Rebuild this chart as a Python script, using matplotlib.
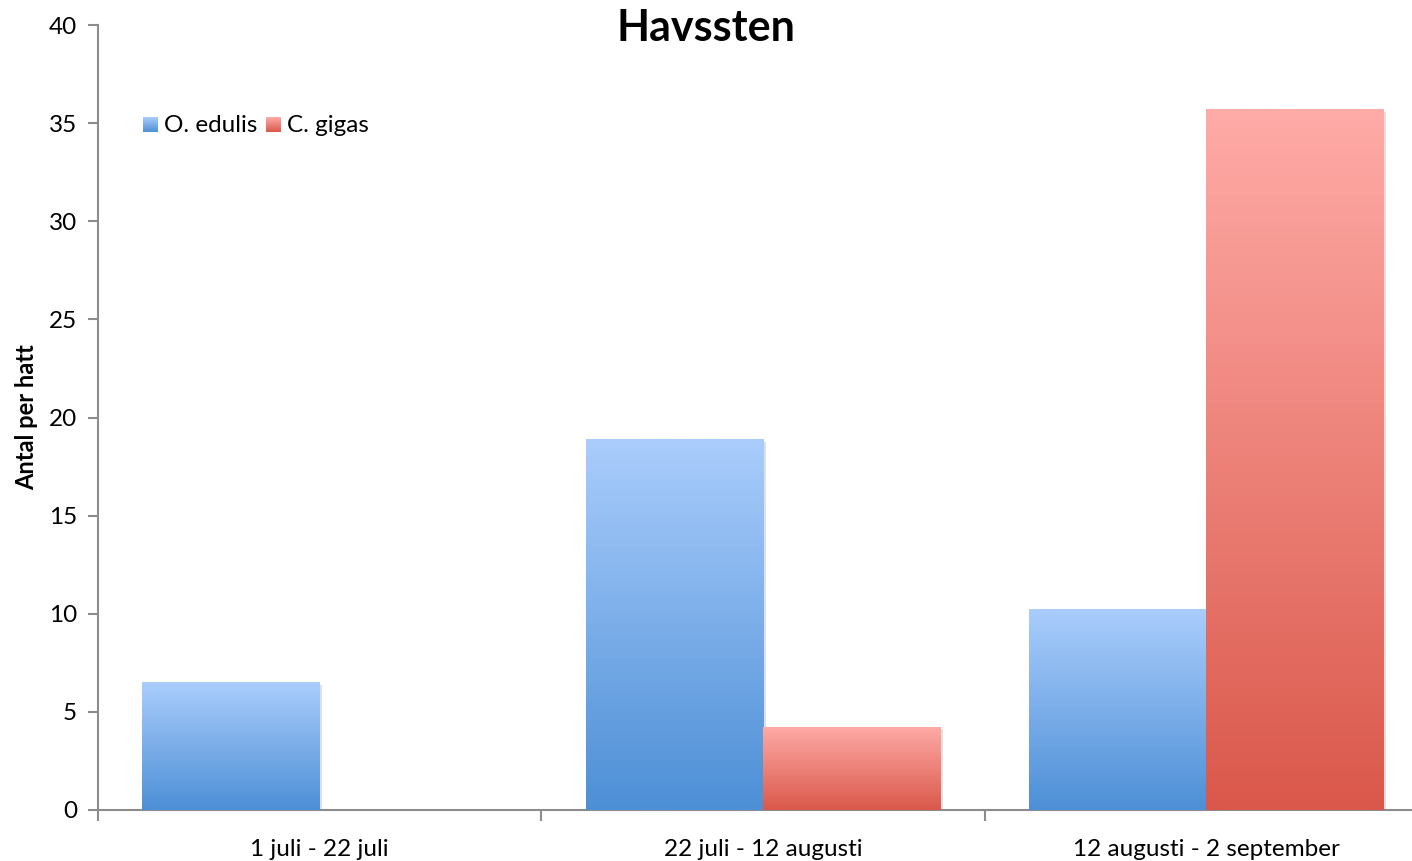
import numpy as np
import matplotlib
matplotlib.use("Agg")
import matplotlib.pyplot as plt
from matplotlib.colors import LinearSegmentedColormap
from matplotlib import patheffects as pe

plt.rcParams['font.family'] = ['Lato', 'DejaVu Sans']

categories = ["1 juli - 22 juli", "22 juli - 12 augusti", "12 augusti - 2 september"]
series_names = ["O. edulis", "C. gigas"]
edulis = [6.5, 18.9, 10.25]
gigas = [0.0, 4.25, 35.7]
yticks = [0, 5, 10, 15, 20, 25, 30, 35, 40]

blue_grad = LinearSegmentedColormap.from_list("blue", ["#4d8fd6", "#aacdfc"])
red_grad = LinearSegmentedColormap.from_list("red", ["#da584b", "#ffaba7"])

fig = plt.figure(figsize=(14.12, 8.61), dpi=100)
ax = fig.add_axes([98 / 1412, 51 / 861, 1330 / 1412, 785 / 861])

x = np.arange(len(categories))
width = 0.4
grad = np.linspace(0, 1, 256).reshape(-1, 1)


def gradient_bars(xpos, values, cmap):
    bars = ax.bar(xpos, values, width, color=cmap(0.5), linewidth=0, zorder=2)
    for b in bars:
        h = b.get_height()
        if h <= 0:
            b.set_visible(False)
            continue
        b.set_path_effects([pe.SimplePatchShadow(offset=(2, -2), shadow_rgbFace="#000000", alpha=0.12),
                            pe.Normal()])
        x0 = b.get_x()
        im = ax.imshow(grad, cmap=cmap, origin="lower", aspect="auto",
                       extent=[x0, x0 + b.get_width(), 0, h], zorder=3,
                       interpolation="bilinear")
        im.set_clip_path(b)
    return bars


gradient_bars(x - width / 2, edulis, blue_grad)
gradient_bars(x + width / 2, gigas, red_grad)

ax.set_xlim(-0.5, len(categories) - 0.5)
ax.set_ylim(0, 40)
ax.set_yticks(yticks)
ax.set_yticklabels([str(t) for t in yticks], fontsize=17.5)
ax.set_xticks(np.arange(len(categories) + 1) - 0.5, minor=False)
ax.set_xticklabels([""] * (len(categories) + 1))
ax.set_xticks(x, minor=True)
ax.set_xticklabels(categories, minor=True, fontsize=17.5)
ax.tick_params(axis="x", which="minor", length=0, pad=21)
ax.tick_params(axis="x", which="major", direction="out", length=8, width=1.5, color="#8c8c8c")
ax.tick_params(axis="y", direction="out", length=7, width=1.5, color="#8c8c8c", pad=8)

for s in ["top", "right"]:
    ax.spines[s].set_visible(False)
for s in ["left", "bottom"]:
    ax.spines[s].set_color("#8c8c8c")
    ax.spines[s].set_linewidth(1.5)

ax.set_ylabel("Antal per hatt", fontsize=17, fontweight="bold", labelpad=8)
fig.text(706 / 1412, 1 - 28 / 861, "Havssten", ha="center", va="center",
         fontsize=31, fontweight="bold")

# legend with gradient swatches
legend_items = [(series_names[0], blue_grad, 143), (series_names[1], red_grad, 266)]
for name, cmap, px in legend_items:
    sax = fig.add_axes([px / 1412, 1 - 132 / 861, 15 / 1412, 15 / 861])
    sax.imshow(grad, cmap=cmap, origin="lower", aspect="auto")
    sax.axis("off")
    fig.text((px + 21) / 1412, 1 - 125 / 861, name, ha="left", va="center", fontsize=17.5)

fig.savefig("out.png", dpi=100)
